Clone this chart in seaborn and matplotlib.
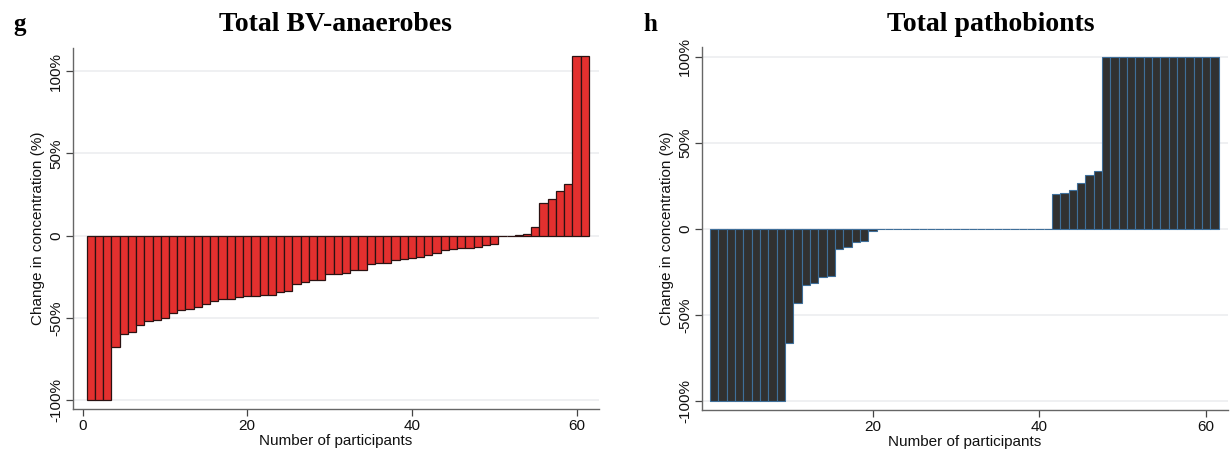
import numpy as np
import pandas as pd
import matplotlib
matplotlib.use("Agg")
import matplotlib.pyplot as plt
import seaborn as sns

# Per-participant change in concentration (%), sorted ascending
bv_anaerobes = [
    -100, -100, -100, -67.6, -59.5, -58.7, -54.3, -51.8, -51.0, -50.2,
    -47.0, -44.9, -44.3, -43.3, -41.3, -39.7, -38.7, -38.5, -37.4, -36.6,
    -36.4, -36.0, -36.0, -34.4, -33.6, -29.4, -28.1, -27.1, -26.9, -23.3,
    -23.0, -22.7, -20.6, -20.6, -17.4, -16.6, -16.6, -15.0, -14.2, -13.6,
    -13.0, -11.9, -10.5, -8.9, -8.1, -7.7, -7.7, -6.9, -5.5, -4.9,
    -0.3, -0.2, 0.4, 1.0, 5.3, 19.7, 22.5, 27.4, 31.6, 109.1, 109.1,
]
pathobionts = [
    -100, -100, -100, -100, -100, -100, -100, -100, -100, -66.1,
    -43.2, -32.8, -31.2, -28.1, -27.3, -11.8, -10.7, -7.4, -6.8, -1.0,
    -0.2, 0, 0, 0, 0, 0, 0, 0, 0, 0,
    0, 0, 0, 0, 0, 0, 0, 0, 0, 0,
    0, 20.2, 20.9, 22.5, 26.4, 31.6, 33.7, 100, 100, 100,
    100, 100, 100, 100, 100, 100, 100, 100, 100, 100, 100,
]
participants = list(range(1, 62))

panel_letters = ["g", "h"]
panel_titles = ["Total BV-anaerobes", "Total pathobionts"]
ytick_values = [-100, -50, 0, 50, 100]
ytick_labels = ["-100%", "-50%", "0", "50%", "100%"]
xticks_left = [0, 20, 40, 60]
xticks_right = [20, 40, 60]

sns.set_theme(style="white")
plt.rcParams["font.family"] = ["Liberation Sans", "DejaVu Sans"]
plt.rcParams["text.color"] = "#000000"
plt.rcParams["axes.labelcolor"] = "#111111"

fig = plt.figure(figsize=(12.32, 4.55), dpi=100)
ax_l = fig.add_axes([0.059, 0.101, 0.427, 0.794])
ax_r = fig.add_axes([0.5696, 0.099, 0.427, 0.798])

df_l = pd.DataFrame({"participant": participants, "change": bv_anaerobes})
df_r = pd.DataFrame({"participant": participants, "change": pathobionts})

sns.barplot(data=df_l, x="participant", y="change", native_scale=True,
            width=1.0, color="#e3302f", saturation=1, edgecolor="#2a1212",
            linewidth=0.9, ax=ax_l)
sns.barplot(data=df_r, x="participant", y="change", native_scale=True,
            width=1.0, color="#313131", saturation=1, edgecolor="#3f6f9a",
            linewidth=0.8, ax=ax_r)

limits = [((-1.2, 62.7), (-105.3, 114.2), xticks_left),
          ((-0.5, 62.6), (-105.2, 105.8), xticks_right)]

for ax, (xl, yl, xt) in zip([ax_l, ax_r], limits):
    ax.set_xlim(*xl)
    ax.set_ylim(*yl)
    ax.set_yticks(ytick_values)
    ax.set_yticklabels(ytick_labels, rotation=90, va="center", fontsize=11)
    ax.set_xticks(xt)
    ax.set_xticklabels([str(v) for v in xt], fontsize=11)
    ax.set_xlabel("Number of participants", fontsize=11, labelpad=1)
    ax.set_ylabel("Change in concentration (%)", fontsize=11, labelpad=3)
    ax.yaxis.grid(True, color="#eceef0", linewidth=1.2)
    ax.xaxis.grid(False)
    ax.set_axisbelow(True)
    for side in ["top", "right"]:
        ax.spines[side].set_visible(False)
    for side in ["left", "bottom"]:
        ax.spines[side].set_color("#666666")
        ax.spines[side].set_linewidth(1.0)
    ax.tick_params(axis="both", direction="out", length=5, width=0.9,
                   color="#444444", labelcolor="#111111", pad=2,
                   bottom=True, left=True)

title_font = dict(family=["Liberation Serif", "DejaVu Serif"],
                  fontweight="bold", color="#000000")
fig.text(0.272, 0.946, panel_titles[0], ha="center", va="center",
         fontsize=20, **title_font)
fig.text(0.804, 0.946, panel_titles[1], ha="center", va="center",
         fontsize=20, **title_font)
fig.text(0.011, 0.946, panel_letters[0], ha="left", va="center",
         fontsize=18, **title_font)
fig.text(0.522, 0.946, panel_letters[1], ha="left", va="center",
         fontsize=18, **title_font)

fig.savefig("out.png", dpi=100, facecolor="white")
